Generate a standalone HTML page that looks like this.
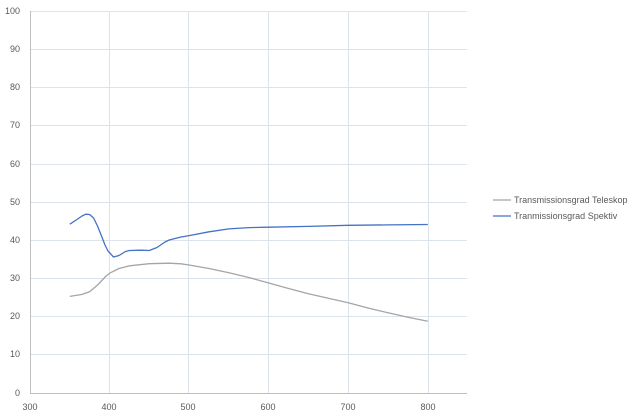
<!DOCTYPE html>
<html><head><meta charset="utf-8"><style>
html,body{margin:0;padding:0;background:#fff;}
svg{display:block;font-family:"Liberation Sans",sans-serif;}
</style></head><body>
<svg width="634" height="417" viewBox="0 0 634 417">
<rect width="634" height="417" fill="#fff"/>
<g stroke="#dde3ea" stroke-width="1">
<line x1="30" y1="11.5" x2="467" y2="11.5"/>
<line x1="30" y1="49.5" x2="467" y2="49.5"/>
<line x1="30" y1="87.5" x2="467" y2="87.5"/>
<line x1="30" y1="125.5" x2="467" y2="125.5"/>
<line x1="30" y1="164.5" x2="467" y2="164.5"/>
<line x1="30" y1="202.5" x2="467" y2="202.5"/>
<line x1="30" y1="240.5" x2="467" y2="240.5"/>
<line x1="30" y1="278.5" x2="467" y2="278.5"/>
<line x1="30" y1="316.5" x2="467" y2="316.5"/>
<line x1="30" y1="354.5" x2="467" y2="354.5"/>
<line x1="109.5" y1="11" x2="109.5" y2="393"/>
<line x1="188.5" y1="11" x2="188.5" y2="393"/>
<line x1="268.5" y1="11" x2="268.5" y2="393"/>
<line x1="348.5" y1="11" x2="348.5" y2="393"/>
<line x1="428.5" y1="11" x2="428.5" y2="393"/>
</g>
<g stroke="#bfbfbf" stroke-width="1">
<line x1="30.5" y1="11" x2="30.5" y2="393"/>
<line x1="30" y1="393.5" x2="467" y2="393.5"/>
</g>
<g font-size="9" fill="#595959" text-anchor="end">
<text x="20" y="14">100</text><text x="20" y="52">90</text><text x="20" y="90">80</text>
<text x="20" y="128">70</text><text x="20" y="167">60</text><text x="20" y="205">50</text>
<text x="20" y="243">40</text><text x="20" y="281">30</text><text x="20" y="319">20</text>
<text x="20" y="357">10</text><text x="20" y="396">0</text>
</g>
<g font-size="9" fill="#595959" text-anchor="middle">
<text x="30" y="410">300</text><text x="109" y="410">400</text><text x="188" y="410">500</text>
<text x="268" y="410">600</text><text x="348" y="410">700</text><text x="428" y="410">800</text>
</g>
<polyline fill="none" stroke="#a5a5a5" stroke-width="1.3" stroke-linejoin="round"
points="69.8,296.4 81.7,294.5 89.6,291.8 97.6,285 105.6,276.5 109.6,273.2 119,268.5 129.4,265.8 149.3,263.7 169.2,263.2 181,263.8 189.1,265 209,268.5 228.9,272.7 248.8,277.5 268.7,283 288.6,288.5 308.4,293.7 328.3,298.2 348.2,302.8 368,308 388,312.8 408,317.2 427.8,321.2"/>
<polyline fill="none" stroke="#4472c4" stroke-width="1.3" stroke-linejoin="round"
points="69.8,224.2 77.7,219 82,216 85.7,214.2 89.6,214.5 93.6,218 97.5,226 101.5,236 105,245 108,251 113.5,257 119,255.5 125.5,251.5 129.4,250.5 141.3,250.2 149.3,250.5 157,247.5 165,242 169.2,240 181,237 189.1,235.6 209,231.8 228.9,228.9 248.8,227.6 268.7,227.2 308.4,226.4 348.2,225.3 388,224.9 427.8,224.5"/>
<line x1="493" y1="200" x2="511" y2="200" stroke="#a5a5a5" stroke-width="1.3"/>
<line x1="493" y1="216" x2="511" y2="216" stroke="#4472c4" stroke-width="1.3"/>
<g font-size="9" fill="#595959">
<text x="514" y="203">Transmissionsgrad Teleskop</text>
<text x="514" y="219">Tranmissionsgrad Spektiv</text>
</g>
</svg>
</body></html>
